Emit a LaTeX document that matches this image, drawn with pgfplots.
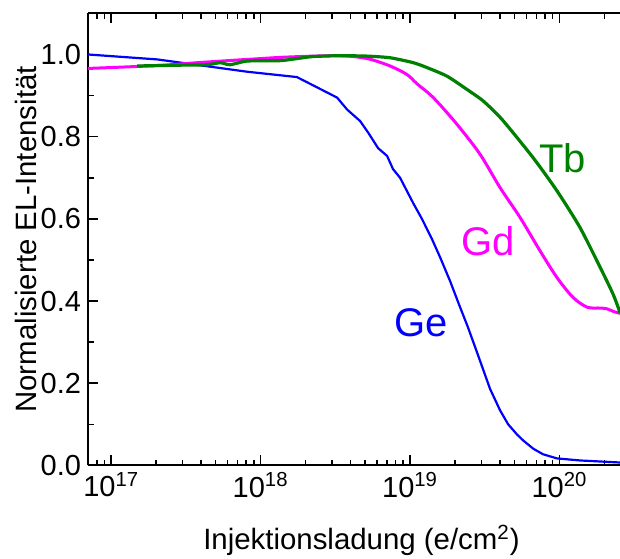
\documentclass[border=0pt]{standalone}
\usepackage{fontspec}
\setmainfont{Liberation Sans}
\usepackage{pgfplots}
\pgfplotsset{compat=1.18}
\definecolor{ge}{RGB}{0,0,255}
\definecolor{gd}{RGB}{255,0,255}
\definecolor{tb}{RGB}{0,128,0}
\newcommand\ticksize{\fontsize{14.5pt}{17pt}\selectfont}
\newcommand\labelsize{\fontsize{14.7pt}{17pt}\selectfont}
\newcommand\curvesize{\fontsize{20pt}{24pt}\selectfont}
\begin{document}
\begin{tikzpicture}
\begin{axis}[
  scale only axis, width=266pt, height=226pt,
  xmode=log, xmin=7.0e16, xmax=2.54e20, ymin=0, ymax=1.1,
  axis x line*=box, axis y line*=left,
  axis line style={line width=0.9pt},
  every tick/.style={black, line width=0.8pt},
  major tick length=5pt, minor tick length=2.8pt,
  xtick={1e17,1e18,1e19,1e20},
  xticklabels={10\textsuperscript{17},10\textsuperscript{18},10\textsuperscript{19},10\textsuperscript{20}},
  minor xtick={8e16,9e16,2e17,3e17,4e17,5e17,6e17,7e17,8e17,9e17,2e18,3e18,4e18,5e18,6e18,7e18,8e18,9e18,2e19,3e19,4e19,5e19,6e19,7e19,8e19,9e19,2e20},
  ytick={0,0.2,0.4,0.6,0.8,1.0},
  yticklabels={0.0,0.2,0.4,0.6,0.8,1.0},
  minor ytick={0.1,0.3,0.5,0.7,0.9},
  tick label style={font=\ticksize},
  label style={font=\labelsize},
  xlabel={Injektionsladung (e/cm\textsuperscript{2})},
  ylabel={Normalisierte EL-Intensität},
  xlabel style={at={(axis description cs:0.514,-0.166)}, anchor=center},
  ylabel style={at={(axis description cs:-0.116,0.5)}, anchor=center},
]
\coordinate (sw) at (rel axis cs:0,0);
\coordinate (ne) at (rel axis cs:1,1);

% Ge
\addplot[color=ge, line width=1.1pt] coordinates {
(7.0e16,1.0)(2.03e17,0.988)(8.13e17,0.958)(1.75e18,0.945)(3.25e18,0.895)(3.79e18,0.866)
(4.63e18,0.838)(5.24e18,0.81)(6.11e18,0.772)(7.02e18,0.753)(7.69e18,0.721)(8.57e18,0.700)
(1.05e19,0.638)(1.20e19,0.600)(1.40e19,0.551)(1.59e19,0.506)(1.85e19,0.449)(2.16e19,0.385)
(2.44e19,0.336)(2.85e19,0.268)(3.43e19,0.186)(4.00e19,0.134)(4.53e19,0.100)(5.20e19,0.075)
(5.70e19,0.061)(6.65e19,0.041)(7.76e19,0.027)(9.62e19,0.017)(1.37e20,0.012)(2.54e20,0.007)
};

% Gd
\addplot[color=gd, line width=1.5pt, smooth, tension=0.5] coordinates {
(7.0e16,0.966)(2.03e17,0.973)(3.76e17,0.98)(8.13e17,0.988)(1.57e18,0.994)(3.40e18,0.997)
(5.16e18,0.99)(7.35e18,0.972)(9.55e18,0.951)(1.11e19,0.929)
(1.43e19,0.895)(2.06e19,0.830)(2.94e19,0.757)(4.00e19,0.676)(5.45e19,0.603)
(7.41e19,0.522)(9.62e19,0.457)(1.23e20,0.409)(1.53e20,0.385)(1.87e20,0.383)(2.08e20,0.381)
(2.28e20,0.375)(2.54e20,0.370)
};

% Tb
\addplot[color=tb, line width=1.6pt, smooth, tension=0.4] coordinates {
(1.49e17,0.972)(2.90e17,0.974)(4.39e17,0.975)(5.36e17,0.98)(6.25e17,0.975)(8.13e17,0.984)
(1.35e18,0.985)(1.75e18,0.99)(2.24e18,0.995)(3.40e18,0.997)(5.16e18,0.996)(7.35e18,0.992)
(1.05e19,0.98)(1.30e19,0.968)(1.77e19,0.947)(2.40e19,0.915)(3.08e19,0.887)(4.12e19,0.842)
(6.65e19,0.749)(9.62e19,0.668)(1.37e20,0.579)(1.87e20,0.482)(2.28e20,0.417)
(2.54e20,0.372)
};

\node[font=\curvesize, text=ge] at (axis cs:1.19e19,0.346) {Ge};
\node[font=\curvesize, text=gd] at (axis cs:3.34e19,0.545) {Gd};
\node[font=\curvesize, text=tb] at (axis cs:1.045e20,0.747) {Tb};
\end{axis}
\pgfresetboundingbox
\useasboundingbox ([xshift=-44pt,yshift=-46.8pt]sw) rectangle ([yshift=6.7pt]ne);
\end{tikzpicture}
\end{document}
